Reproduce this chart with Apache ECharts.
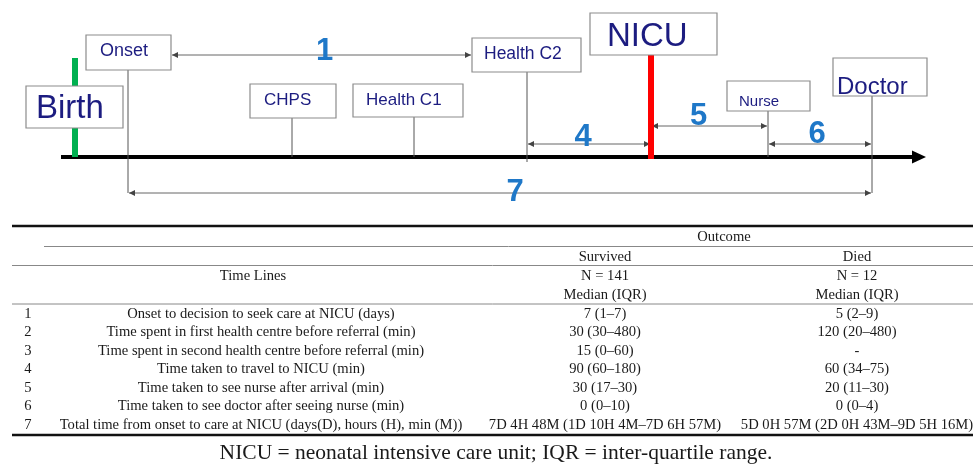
<!DOCTYPE html>
<html lang="en">
<head>
<meta charset="UTF-8">
<title>Time lines from onset to care at NICU</title>
<script src="https://cdn.jsdelivr.net/npm/echarts@6/dist/echarts.min.js"></script>
<style>
    html, body { margin: 0; padding: 0; background: #fff; }
    #main { width: 973px; height: 464px; }
</style>
</head>
<body>
<div id="main"></div>
<script type="text/javascript">
    // events along the time arrow (x = position on the arrow)
    var eventNames = ['Birth', 'Onset', 'CHPS', 'Health C1', 'Health C2', 'NICU', 'Nurse', 'Doctor'];
    var eventX = [75, 128, 292, 414, 527, 651, 768, 872];

    // numbered intervals, given as event indexes
    var intervalLabels = ['1', '4', '5', '6', '7'];
    var intervalFrom = [1, 4, 5, 6, 1];
    var intervalTo = [4, 5, 6, 7, 7];

    // table
    var rowNumbers = ['1', '2', '3', '4', '5', '6', '7'];
    var timeLines = [
        'Onset to decision to seek care at NICU (days)',
        'Time spent in first health centre before referral (min)',
        'Time spent in second health centre before referral (min)',
        'Time taken to travel to NICU (min)',
        'Time taken to see nurse after arrival (min)',
        'Time taken to see doctor after seeing nurse (min)',
        'Total time from onset to care at NICU (days(D), hours (H), min (M))'
    ];
    var survived = ['7 (1–7)', '30 (30–480)', '15 (0–60)', '90 (60–180)', '30 (17–30)', '0 (0–10)',
        '7D 4H 48M (1D 10H 4M–7D 6H 57M)'];
    var died = ['5 (2–9)', '120 (20–480)', '-', '60 (34–75)', '20 (11–30)', '0 (0–4)',
        '5D 0H 57M (2D 0H 43M–9D 5H 16M)'];
    var outcomeGroups = ['Survived', 'Died'];
    var groupN = [141, 12];
    var caption = 'NICU = neonatal intensive care unit; IQR = inter-quartile range.';

    // ---- layout (drawing only) ----
    var sans = '"Liberation Sans", Arial, sans-serif';
    var serif = '"Liberation Serif", "Times New Roman", serif';
    var boxText = '#1c1c80';
    var numBlue = '#1f78c8';

    // box: left, top, right, bottom; text: left, middle y, size; stem: top, bottom
    var eventLayout = [
        {box: [26, 86, 123, 128], text: [36, 109, 33], stem: [58, 157], color: '#00b050', width: 6},
        {box: [86, 35, 171, 70], text: [100, 51, 18], stem: [70, 193]},
        {box: [250, 84, 336, 118], text: [264, 100, 17], stem: [118, 157]},
        {box: [353, 84, 463, 117], text: [366, 100, 17], stem: [117, 157]},
        {box: [472, 38, 581, 72], text: [484, 54, 17.5], stem: [72, 162]},
        {box: [590, 13, 717, 55], text: [607, 37, 33], stem: [55, 159], color: '#ff0000', width: 6},
        {box: [727, 81, 810, 111], text: [739, 102, 15], stem: [111, 157]},
        {box: [833, 58, 927, 96], text: [837, 87, 24], stem: [96, 193]}
    ];
    // line y, label offset dx, dy, and whether arrow stops at box edges
    var intervalLayout = [
        {y: 55, dx: 3, dy: -4, edge: true},
        {y: 144, dx: -6, dy: -7},
        {y: 126, dx: -11, dy: -10},
        {y: 144, dx: -3, dy: -10},
        {y: 193, dx: 15, dy: -1}
    ];
    var axisY = 157, axisStart = 61, axisTip = 926;

    var tableTop = 226, tableBottom = 435, tableLeft = 12, tableRight = 973;
    var rowY0 = 314, rowStep = 18.5;
    var colX = [28, 261, 605, 857];
    var tableFont = 14.6;

    var myChart = echarts.init(document.getElementById('main'));

    function arrowHead(api, x, y, dir) {
        var p = api.coord([x, y]);
        return {
            type: 'polygon',
            shape: {points: [[p[0], p[1]], [p[0] - dir * 6, p[1] - 3], [p[0] - dir * 6, p[1] + 3]]},
            style: {fill: '#444'}
        };
    }

    function renderAxis(params, api) {
        var a = api.coord([api.value(0), axisY]);
        var b = api.coord([api.value(1), axisY]);
        return {
            type: 'group', children: [
                {type: 'line', shape: {x1: a[0], y1: a[1], x2: b[0] - 12, y2: b[1]}, style: {stroke: '#000', lineWidth: 4}},
                {type: 'polygon', shape: {points: [[b[0], b[1]], [b[0] - 14, b[1] - 6.5], [b[0] - 14, b[1] + 6.5]]}, style: {fill: '#000'}}
            ]
        };
    }

    function renderEvent(params, api) {
        var i = params.dataIndex;
        var L = eventLayout[i];
        var x = api.value(0);
        var s0 = api.coord([x, L.stem[0]]);
        var s1 = api.coord([x, L.stem[1]]);
        var b0 = api.coord([L.box[0], L.box[1]]);
        var b1 = api.coord([L.box[2], L.box[3]]);
        var t = api.coord([L.text[0], L.text[1]]);
        return {
            type: 'group', children: [
                {type: 'line', shape: {x1: s0[0], y1: s0[1], x2: s1[0], y2: s1[1]},
                    style: {stroke: L.color || '#555', lineWidth: L.width || 1}},
                {type: 'rect', shape: {x: b0[0], y: b0[1], width: b1[0] - b0[0], height: b1[1] - b0[1]},
                    style: {fill: '#fff', stroke: '#8c8c8c', lineWidth: 1.2}},
                {type: 'text', x: t[0], y: t[1],
                    style: {text: eventNames[i], fill: boxText, font: L.text[2] + 'px ' + sans, verticalAlign: 'middle'}}
            ]
        };
    }

    function renderInterval(params, api) {
        var i = params.dataIndex;
        var L = intervalLayout[i];
        var f = intervalFrom[i], t = intervalTo[i];
        var x1 = L.edge ? eventLayout[f].box[2] + 1 : eventX[f] + 1;
        var x2 = L.edge ? eventLayout[t].box[0] - 1 : eventX[t] - 1;
        var a = api.coord([x1, L.y]);
        var b = api.coord([x2, L.y]);
        var c = api.coord([(x1 + x2) / 2 + L.dx, L.y + L.dy]);
        return {
            type: 'group', children: [
                {type: 'line', shape: {x1: a[0], y1: a[1], x2: b[0], y2: b[1]}, style: {stroke: '#666', lineWidth: 1}},
                arrowHead(api, x1, L.y, -1),
                arrowHead(api, x2, L.y, 1),
                {type: 'text', x: c[0], y: c[1],
                    style: {text: intervalLabels[i], fill: numBlue, font: 'bold 31px ' + sans, align: 'center', verticalAlign: 'middle'}}
            ]
        };
    }

    function cellText(api, x, y, text, align) {
        var p = api.coord([x, y]);
        return {type: 'text', x: p[0], y: p[1],
            style: {text: text, fill: '#1a1a1a', font: tableFont + 'px ' + serif, align: align || 'center', verticalAlign: 'middle'}};
    }

    function renderRow(params, api) {
        var i = params.dataIndex;
        var y = rowY0 + i * rowStep;
        return {
            type: 'group', children: [
                cellText(api, colX[0], y, rowNumbers[i]),
                cellText(api, colX[1], y, timeLines[i]),
                cellText(api, colX[2], y, survived[i]),
                cellText(api, colX[3], y, died[i])
            ]
        };
    }

    function rule(y, x1, w, color) {
        return {type: 'line', shape: {x1: x1, y1: y, x2: tableRight, y2: y}, style: {stroke: color, lineWidth: w}, silent: true};
    }
    function label(x, y, text, size) {
        return {type: 'text', x: x, y: y, silent: true,
            style: {text: text, fill: '#1a1a1a', font: (size || tableFont) + 'px ' + serif, align: 'center', verticalAlign: 'middle'}};
    }

    var headerGraphics = [
        rule(tableTop, tableLeft, 2.5, '#111'),
        rule(246.5, 44, 1, '#888'),
        rule(265.5, tableLeft, 1, '#888'),
        rule(304, tableLeft, 1, '#888'),
        rule(tableBottom, tableLeft, 2.5, '#111'),
        label(724, 237, 'Outcome'),
        label(253, 276, 'Time Lines'),
        label(496, 453, caption, 21.5)
    ];
    outcomeGroups.forEach(function (g, k) {
        headerGraphics.push(label(colX[2 + k], 257, g));
        headerGraphics.push(label(colX[2 + k], 276, 'N = ' + groupN[k]));
        headerGraphics.push(label(colX[2 + k], 295, 'Median (IQR)'));
    });

    var option = {
        animation: false,
        backgroundColor: '#fff',
        grid: {left: 0, right: 0, top: 0, bottom: 0},
        xAxis: {type: 'value', min: 0, max: 973, show: false},
        yAxis: {type: 'value', min: 0, max: 464, inverse: true, show: false},
        graphic: headerGraphics,
        series: [
            {type: 'custom', name: 'axis', renderItem: renderAxis, data: [[axisStart, axisTip]], z: 1},
            {type: 'custom', name: 'intervals', renderItem: renderInterval,
                data: intervalLabels.map(function (l, i) { return [eventX[intervalFrom[i]], eventX[intervalTo[i]]]; }), z: 2},
            {type: 'custom', name: 'events', renderItem: renderEvent,
                data: eventX.map(function (x, i) { return [x, i]; }), z: 3},
            {type: 'custom', name: 'table', renderItem: renderRow,
                data: rowNumbers.map(function (n, i) { return [i, i]; }), z: 4}
        ]
    };

    myChart.setOption(option);
</script>
</body>
</html>
